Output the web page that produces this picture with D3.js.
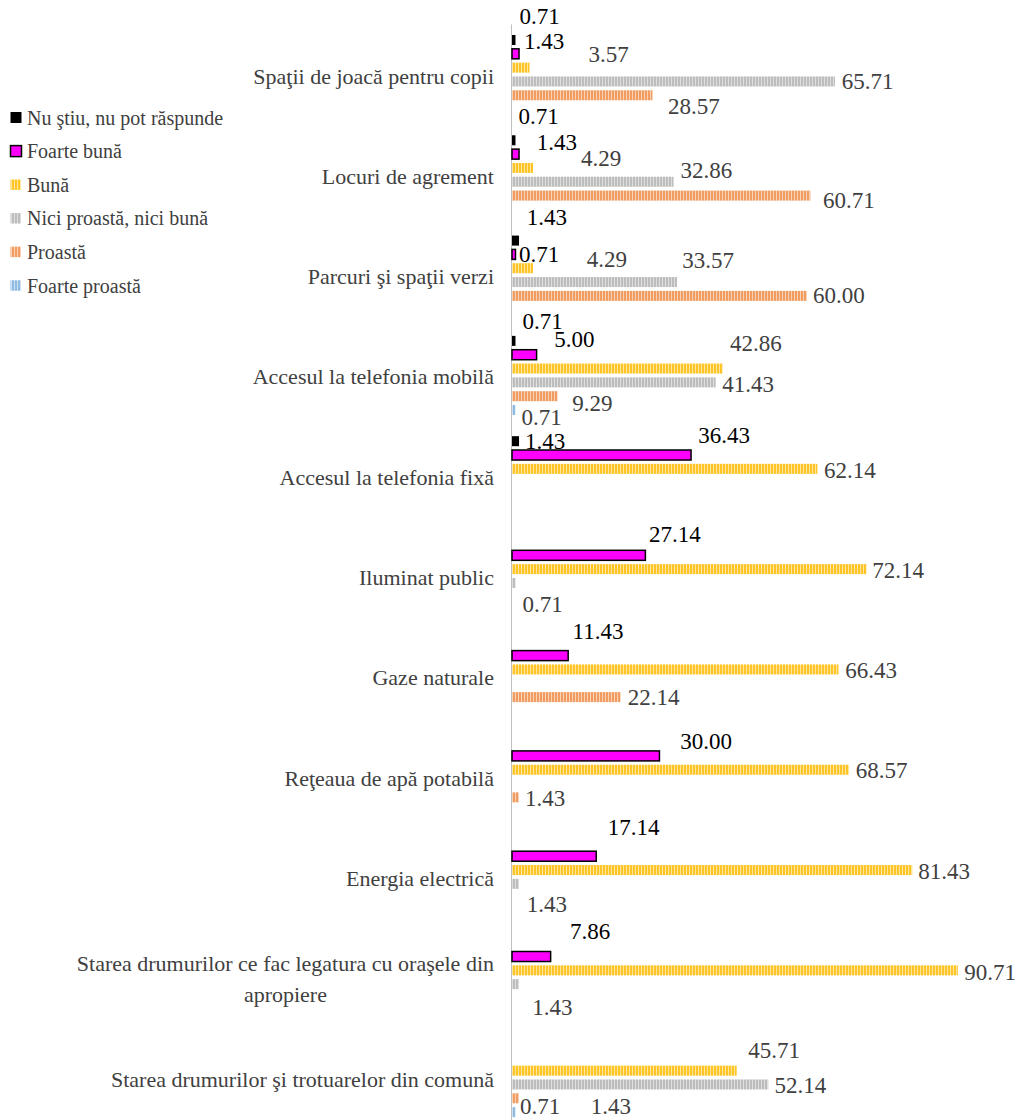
<!DOCTYPE html>
<html><head><meta charset="utf-8">
<script src="https://cdn.jsdelivr.net/npm/d3@7"></script>
<style>
body{margin:0;background:#fff;}
</style>
</head><body>
<svg id="chart" width="1021" height="1120"></svg>
<script>
// ---------- data ----------
const categories = [
  "Spaţii de joacă pentru copii",
  "Locuri de agrement",
  "Parcuri şi spaţii verzi",
  "Accesul la telefonia mobilă",
  "Accesul la telefonia fixă",
  "Iluminat public",
  "Gaze naturale",
  "Reţeaua de apă potabilă",
  "Energia electrică",
  "Starea drumurilor ce fac legatura cu oraşele din apropiere",
  "Starea drumurilor şi trotuarelor din comună"
];
const seriesNames = [
  "Nu ştiu, nu pot răspunde",
  "Foarte bună",
  "Bună",
  "Nici proastă, nici bună",
  "Proastă",
  "Foarte proastă"
];
const nuStiu        = [0.71, 0.71, 1.43, 0.71, 1.43, null, null, null, null, null, null];
const foarteBuna    = [1.43, 1.43, 0.71, 5.00, 36.43, 27.14, 11.43, 30.00, 17.14, 7.86, null];
const buna          = [3.57, 4.29, 4.29, 42.86, 62.14, 72.14, 66.43, 68.57, 81.43, 90.71, 45.71];
const nici          = [65.71, 32.86, 33.57, 41.43, null, 0.71, null, null, 1.43, 1.43, 52.14];
const proasta       = [28.57, 60.71, 60.00, 9.29, null, null, 22.14, 1.43, null, null, 1.43];
const foarteProasta = [null, null, null, 0.71, null, null, null, null, null, null, 0.71];

// ---------- label layout (manual nudges: [dx from bar end, dy from bar centre]) ----------
const nuStiuNudge = [[4,-23],[3,-24],[7.7,-23.5],[7,-19],[6,0],null,null,null,null,null,null];
const foarteBunaNudge = [[5,-12],[17.7,-12],[3.5,0],[17.7,-15],[7.3,-20],[3.6,-21],[4.4,-24.6],[20.7,-14.7],[11.6,-28.7],[19.3,-25],null];
const bunaNudge = [[59,-13],[48,-9.5],[53.7,-9],[7.3,-25],[6.6,2],[5.6,1],[6.7,1.3],[6.7,1],[6,1],[6.3,2],[11.6,-20]];
const niciNudge = [[6.7,0],[7,-11],[5.3,-22],[6.6,2],null,[7,21.5],null,null,[7.7,21],[13.3,23],[6.3,1]];
const proastaNudge = [[15.7,11.4],[12.6,5],[6,0],[14.6,7],null,null,[7,0],[6,1.5],null,null,[71.7,8]];
const foarteProastaNudge = [null,null,null,[6,7.5],null,null,null,null,null,null,[4.5,-6]];

const seriesValues = [nuStiu, foarteBuna, buna, nici, proasta, foarteProasta];
const seriesNudges = [nuStiuNudge, foarteBunaNudge, bunaNudge, niciNudge, proastaNudge, foarteProastaNudge];

// ---------- styles ----------
const FONT = "'Liberation Serif', serif";
const solidFill = ["#000000", "#FF00FF", null, null, null, null];
const stripeColors = [null, null, ["#FFC527","#FFE6A0"], ["#BDBDBD","#DEDEDE"], ["#F19D62","#F9D2B5"], ["#8FBAE2","#CFE2F3"]];
const labelColors = ["#000000", "#000000", "#404040", "#404040", "#404040", "#404040"];

const svg = d3.select("#chart").style("font-family", FONT);
const defs = svg.append("defs");
stripeColors.forEach((c, j) => {
  if (!c) return;
  const p = defs.append("pattern").attr("id", "pat" + j)
    .attr("patternUnits", "userSpaceOnUse").attr("width", 3).attr("height", 4);
  p.append("rect").attr("width", 3).attr("height", 4).attr("fill", c[1]);
  p.append("rect").attr("width", 2).attr("height", 4).attr("fill", c[0]);
});
const fillFor = j => solidFill[j] ? solidFill[j] : `url(#pat${j})`;

// ---------- scales ----------
const x = d3.scaleLinear().domain([0, 100]).range([512, 1003.5]);
const y = d3.scaleBand().domain(categories).range([24.4, 1127.7])
  .paddingInner(0.173).paddingOuter(0.0865);
const ySub = d3.scaleBand().domain(d3.range(seriesNames.length)).range([0, y.bandwidth()])
  .paddingInner(0.275).paddingOuter(0.1375);

// ---------- flattened marks ----------
const marks = [];
categories.forEach((cat, i) => {
  seriesValues.forEach((arr, j) => {
    const v = arr[i];
    if (v === null || v === undefined) return;
    marks.push({cat, j, v, nudge: seriesNudges[j][i] || [7, 0]});
  });
});

// axis line (category axis, no ticks)
svg.append("line")
  .attr("x1", x(0) - 0.5).attr("x2", x(0) - 0.5)
  .attr("y1", y.range()[0]).attr("y2", 1120)
  .attr("stroke", "#BFBFBF").attr("stroke-width", 1);

// bars
svg.append("g").selectAll("rect").data(marks).join("rect")
  .attr("x", x(0))
  .attr("y", d => y(d.cat) + ySub(d.j))
  .attr("width", d => x(d.v) - x(0))
  .attr("height", ySub.bandwidth())
  .attr("fill", d => fillFor(d.j))
  .attr("stroke", d => d.j === 1 ? "#000" : "none")
  .attr("stroke-width", d => d.j === 1 ? 1.5 : 0);

// data labels
const fmt = d3.format(".2f");
svg.append("g").selectAll("text").data(marks).join("text")
  .style("font-family", FONT)
  .attr("x", d => x(d.v) + d.nudge[0])
  .attr("y", d => y(d.cat) + ySub(d.j) + ySub.bandwidth() / 2 + d.nudge[1])
  .attr("dominant-baseline", "central")
  .attr("font-size", 23)
  .attr("fill", d => labelColors[d.j])
  .text(d => fmt(d.v));

// category labels (wrapped)
const catG = svg.append("g");
const maxLabelW = 430, lineH = 31, labelRight = 494;
categories.forEach(cat => {
  const t = catG.append("text").style("font-family", FONT).attr("font-size", 22).attr("fill", "#404040")
    .attr("dominant-baseline", "central");
  const words = cat.split(" ");
  const lines = [];
  let cur = [];
  const probe = t.append("tspan");
  words.forEach(w => {
    const test = cur.concat([w]).join(" ");
    probe.text(test);
    if (probe.node().getComputedTextLength() > maxLabelW && cur.length) {
      lines.push(cur.join(" ")); cur = [w];
    } else cur.push(w);
  });
  lines.push(cur.join(" "));
  probe.remove();
  const widths = lines.map(l => { const s = t.append("tspan").text(l); const w = s.node().getComputedTextLength(); s.remove(); return w; });
  const blockW = d3.max(widths);
  const cy = y(cat) + y.bandwidth() / 2 + 1;
  const y0 = cy - (lines.length - 1) * lineH / 2;
  if (lines.length === 1) {
    t.attr("text-anchor", "end");
    t.append("tspan").attr("x", labelRight).attr("y", cy).text(lines[0]);
  } else {
    t.attr("text-anchor", "middle");
    lines.forEach((l, k) => t.append("tspan").attr("x", labelRight - blockW / 2).attr("y", y0 + k * lineH).text(l));
  }
});

// legend
const leg = svg.append("g");
seriesNames.forEach((name, j) => {
  const cy = 117.5 + j * 33.6;
  const sz = j < 2 ? 11 : 10.5;
  leg.append("rect").attr("x", 10.5).attr("y", cy - sz / 2).attr("width", sz).attr("height", sz)
    .attr("fill", fillFor(j))
    .attr("stroke", j === 1 ? "#000" : "none").attr("stroke-width", j === 1 ? 1.5 : 0);
  leg.append("text").style("font-family", FONT).attr("x", 27).attr("y", cy).attr("dominant-baseline", "central")
    .attr("font-size", 20).attr("fill", "#404040").text(name);
});
</script>
</body></html>
